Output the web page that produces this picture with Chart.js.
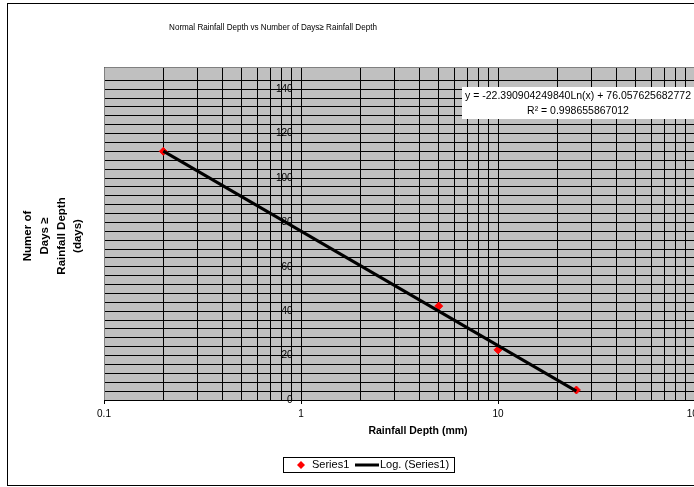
<!DOCTYPE html>
<html>
<head>
<meta charset="utf-8">
<script src="https://cdn.jsdelivr.net/npm/chart.js@4.4.1/dist/chart.umd.min.js"></script>
<style>
  html, body { margin: 0; padding: 0; background: #fff; overflow: hidden; }
  #wrap { position: absolute; left: 0; top: 0; width: 760px; height: 487px; }
</style>
</head>
<body>
<div id="wrap"><canvas id="grafico" width="760" height="487"></canvas></div>
<script>
// datos
const profundidad = [0.2, 5, 10, 25];
const dias = [112, 42.3, 22.6, 4.5];
const tendenciaX = [0.2, 25];
const tendenciaY = [112.1, 4.0];
const etiquetasX = [0.1, 1, 10, 100];
const etiquetasY = [0, 20, 40, 60, 80, 100, 120, 140];
const ecuacion = ['y = -22.390904249840Ln(x) + 76.057625682772', 'R\u00B2 = 0.998655867012'];
const titulo = 'Normal Rainfall Depth vs Number of Days\u2265 Rainfall Depth';
const tituloX = 'Rainfall Depth (mm)';
const tituloY = ['Numer of', 'Days \u2265', 'Rainfall Depth', '(days)'];

const fuente = "'Liberation Sans', Arial, sans-serif";

// lineas verticales de la escala log: 0.1..0.9, 1..9, 10..90, 100
const lineasX = [];
[0.1, 1, 10].forEach(d => {
    for (let k = 1; k < 10; k++) lineasX.push(+(k * d).toPrecision(3));
});
lineasX.push(100);

const esEtiquetaX = v => etiquetasX.some(e => Math.abs(e - v) < 1e-9);

const decorado = {
    id: 'decorado',
    beforeDraw(chart) {
        const { ctx, chartArea: a } = chart;
        ctx.save();
        ctx.fillStyle = '#fff';
        ctx.fillRect(0, 0, chart.width, chart.height);
        ctx.fillStyle = '#c0c0c0';
        ctx.fillRect(a.left, a.top, a.right - a.left, a.bottom - a.top);
        ctx.restore();
    },
    afterDraw(chart) {
        const { ctx, chartArea: a } = chart;
        ctx.save();

        // borde gris del area de trazado
        ctx.strokeStyle = '#808080';
        ctx.lineWidth = 1;
        ctx.beginPath();
        ctx.moveTo(a.left + 0.5, a.bottom);
        ctx.lineTo(a.left + 0.5, a.top + 0.5);
        ctx.lineTo(a.right, a.top + 0.5);
        ctx.stroke();

        // caja de la ecuacion
        ctx.fillStyle = '#fff';
        ctx.fillRect(462, 87, 240, 32);
        ctx.fillStyle = '#000';
        ctx.font = '10.5px ' + fuente;
        ctx.textAlign = 'center';
        ctx.textBaseline = 'middle';
        ctx.fillText(ecuacion[0], 578, 96);
        ctx.fillText(ecuacion[1], 578, 111);

        // titulo
        ctx.save();
        ctx.translate(273, 28);
        ctx.scale(0.9, 1);
        ctx.font = '9px ' + fuente;
        ctx.fillText(titulo, 0, 0);
        ctx.restore();

        // titulo eje x
        ctx.font = 'bold 10.5px ' + fuente;
        ctx.fillText(tituloX, 418, 431);

        // titulo eje y
        ctx.save();
        ctx.translate(0, 236);
        ctx.rotate(-Math.PI / 2);
        ctx.font = 'bold 11.5px ' + fuente;
        tituloY.forEach((t, i) => ctx.fillText(t, 0, 28 + i * 16.7));
        ctx.restore();

        // leyenda
        ctx.fillStyle = '#fff';
        ctx.fillRect(283.5, 457.5, 171, 15);
        ctx.strokeStyle = '#000';
        ctx.strokeRect(283.5, 457.5, 171, 15);
        ctx.fillStyle = '#ff0000';
        ctx.beginPath();
        ctx.moveTo(301, 461);
        ctx.lineTo(305, 465);
        ctx.lineTo(301, 469);
        ctx.lineTo(297, 465);
        ctx.closePath();
        ctx.fill();
        ctx.fillStyle = '#000';
        ctx.font = '11px ' + fuente;
        ctx.textAlign = 'left';
        ctx.fillText('Series1', 312, 465);
        ctx.lineWidth = 3;
        ctx.beginPath();
        ctx.moveTo(355, 465);
        ctx.lineTo(379, 465);
        ctx.stroke();
        ctx.fillText('Log. (Series1)', 380, 465);

        // borde exterior
        ctx.lineWidth = 1;
        ctx.strokeStyle = '#000';
        ctx.strokeRect(7.5, 3.5, 800, 482);
        ctx.restore();
    }
};

const ctx = document.getElementById('grafico').getContext('2d');
new Chart(ctx, {
    type: 'scatter',
    data: {
        datasets: [{
            label: 'Log. (Series1)',
            data: tendenciaX.map((x, i) => ({ x: x, y: tendenciaY[i] })),
            showLine: true,
            borderColor: '#000',
            borderWidth: 3,
            pointRadius: 0,
            order: 1
        }, {
            label: 'Series1',
            data: profundidad.map((x, i) => ({ x: x, y: dias[i] })),
            pointStyle: 'rectRot',
            pointRadius: 4,
            backgroundColor: '#ff0000',
            borderColor: '#ff0000',
            order: 2
        }]
    },
    options: {
        responsive: false,
        animation: false,
        layout: { padding: { left: 104, top: 67, right: 65, bottom: 0 } },
        plugins: {
            legend: { display: false },
            title: { display: false },
            tooltip: { enabled: false }
        },
        scales: {
            x: {
                type: 'logarithmic',
                min: 0.1,
                max: 100,
                afterBuildTicks: s => { s.ticks = lineasX.map(v => ({ value: v })); },
                afterFit: s => { s.height = 87; },
                grid: {
                    color: '#000',
                    lineWidth: 1,
                    tickLength: 4,
                    tickColor: c => (c.tick && esEtiquetaX(c.tick.value)) ? '#000' : 'rgba(0,0,0,0)'
                },
                border: { color: '#000', width: 1 },
                ticks: {
                    autoSkip: false,
                    maxRotation: 0,
                    padding: 4,
                    color: '#000',
                    font: { family: fuente, size: 10 },
                    callback: v => esEtiquetaX(v) ? String(v) : ''
                }
            },
            y: {
                type: 'linear',
                position: { x: 1 },
                min: 0,
                max: 150,
                grid: {
                    color: '#000',
                    lineWidth: 1,
                    tickLength: 4,
                    tickColor: c => (c.tick && etiquetasY.includes(c.tick.value)) ? '#000' : 'rgba(0,0,0,0)'
                },
                border: { color: '#000', width: 1 },
                ticks: {
                    stepSize: 4,
                    autoSkip: false,
                    color: '#000',
                    font: { family: fuente, size: 10 },
                    // el eje en x=1 deja la etiqueta pegada; los espacios la separan del tick
                    callback: v => etiquetasY.includes(v) ? v + '   ' : ''
                }
            }
        }
    },
    plugins: [decorado]
});
</script>
</body>
</html>
